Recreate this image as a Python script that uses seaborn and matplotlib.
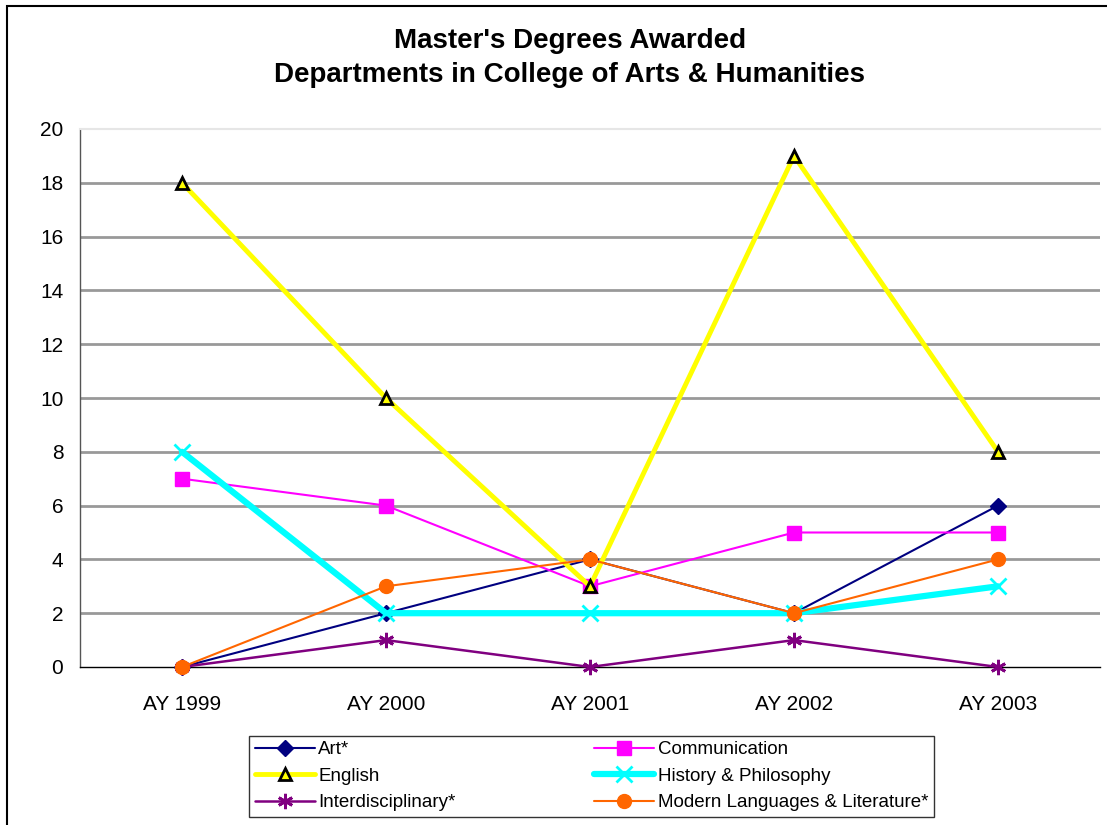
import pandas as pd
import matplotlib.pyplot as plt
import seaborn as sns
from matplotlib.patches import Rectangle

# data
years = ['AY 1999', 'AY 2000', 'AY 2001', 'AY 2002', 'AY 2003']
art = [0, 2, 4, 2, 6]
communication = [7, 6, 3, 5, 5]
english = [18, 10, 3, 19, 8]
history_philosophy = [8, 2, 2, 2, 3]
interdisciplinary = [0, 1, 0, 1, 0]
modern_languages = [0, 3, 4, 2, 4]

series_names = ['Art*', 'Communication', 'English', 'History & Philosophy',
                'Interdisciplinary*', 'Modern Languages & Literature*']
series_values = [art, communication, english, history_philosophy,
                 interdisciplinary, modern_languages]

# styles per series: color, linewidth, marker, markersize, marker face, marker edge
styles = {
    'Art*': ('#000080', 1.5, 'D', 8, '#000080', '#000080'),
    'Communication': ('#FF00FF', 1.5, 's', 10, '#FF00FF', '#FF00FF'),
    'English': ('#FFFF00', 3.5, '^', 9, '#FFFF00', '#000000'),
    'History & Philosophy': ('#00FFFF', 4.5, 'x', 12, '#00FFFF', '#00FFFF'),
    'Interdisciplinary*': ('#800080', 1.8, (6, 2, 0), 11, '#800080', '#800080'),
    'Modern Languages & Literature*': ('#FF6600', 1.5, 'o', 10, '#FF6600', '#FF6600'),
}

sns.set_style('white')
plt.rcParams['font.family'] = ['Liberation Sans', 'DejaVu Sans']
plt.rcParams['text.color'] = 'black'
plt.rcParams['xtick.color'] = 'black'
plt.rcParams['ytick.color'] = 'black'

fig = plt.figure(figsize=(11.07, 8.25), dpi=100)
ax = fig.add_axes([80 / 1107, 1 - 667 / 825, 1020 / 1107, 538 / 825])

handles = {}
for name, vals in zip(series_names, series_values):
    df = pd.DataFrame({'year': years, 'count': vals})
    color, lw, marker, ms, mfc, mec = styles[name]
    sns.lineplot(data=df, x='year', y='count', ax=ax, color=color, linewidth=lw,
                 marker=marker, markersize=ms, markerfacecolor=mfc,
                 markeredgecolor=mec, markeredgewidth=2 if marker in ('x', '^') or isinstance(marker, tuple) else 1,
                 label=name, clip_on=False, zorder=3)
    handles[name] = ax.get_lines()[-1]

ax.set_xlim(-0.5, 4.5)
ax.set_ylim(0, 20)
ax.set_yticks(range(0, 21, 2))
ax.set_xlabel('')
ax.set_ylabel('')

for y in range(2, 20, 2):
    ax.axhline(y, color='#999999', linewidth=2, zorder=1)

ax.spines['right'].set_visible(False)
ax.spines['top'].set_color('#e6e6e6')
ax.spines['top'].set_linewidth(1.5)
ax.spines['left'].set_color('#555555')
ax.spines['left'].set_linewidth(1)
ax.spines['bottom'].set_color('#000000')
ax.spines['bottom'].set_linewidth(1)

ax.tick_params(axis='y', labelsize=15, length=6, width=1, direction='out', pad=6,
               colors='black')
ax.tick_params(axis='x', which='major', labelsize=15, length=0, pad=20, labelcolor='black')
ax.set_xticks([-0.5, 0.5, 1.5, 2.5, 3.5, 4.5], minor=True)
ax.tick_params(axis='x', which='minor', length=6, width=1, direction='in', color='black')

fig.text(570 / 1107, 1 - 58 / 825, "Master's Degrees Awarded\nDepartments in College of Arts & Humanities",
         ha='center', va='center', fontsize=20, fontweight='bold', linespacing=1.38,
         color='black')

order = ['Art*', 'English', 'Interdisciplinary*',
         'Communication', 'History & Philosophy', 'Modern Languages & Literature*']
ax.get_legend().remove()
leg = fig.legend([handles[n] for n in order], order, ncol=2, mode='expand',
                 bbox_to_anchor=(249 / 1107, 8 / 825, 685 / 1107, 82 / 825),
                 loc='lower left', fontsize=13.5, frameon=True, fancybox=False,
                 edgecolor='black', handlelength=3.2, handletextpad=0.2,
                 borderaxespad=0, labelspacing=0.5, borderpad=0.3,
                 columnspacing=1.0)
leg.get_frame().set_linewidth(1)
for t in leg.get_texts():
    t.set_color('black')

# outer chart border (extends past the image on right and bottom)
fig.add_artist(Rectangle((7 / 1107, -0.1), 1.2, 1.1 - 6 / 825, transform=fig.transFigure,
                         fill=False, edgecolor='black', linewidth=1.5))

fig.savefig('out.png', dpi=100)
